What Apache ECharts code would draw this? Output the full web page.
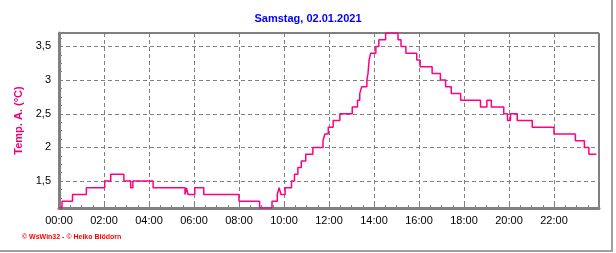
<!DOCTYPE html>
<html><head><meta charset="utf-8">
<script src="https://cdn.jsdelivr.net/npm/echarts@6/dist/echarts.min.js"></script>
<style>html,body{margin:0;padding:0;background:#fff}#c{width:616px;height:253px}</style>
</head><body><div id="c"></div>
<script>
const titleText = "Samstag, 02.01.2021";
const yAxisName = "Temp. A. (°C)";
const footerText = "© WsWin32 - © Heiko Blödorn";

const times = ["00:00","00:08","00:36","01:13","02:02","02:18","02:53","03:11","03:17","04:11",
 "05:36","05:40","05:44","06:02","06:26","08:00","08:55","09:28","09:42","09:47",
 "09:52","10:03","10:20","10:28","10:37","10:46","10:58","11:17","11:44","11:49",
 "11:58","12:11","12:29","13:02","13:16","13:22","13:27","13:41","13:44","13:47",
 "13:51","14:05","14:13","14:31","15:04","15:12","15:25","15:54","16:03","16:35",
 "16:57","17:11","17:26","17:51","18:44","19:01","19:13","19:46","19:56","20:04",
 "20:22","21:02","22:00","22:57","23:21","23:33","23:53"];
const temps = [1.1,1.2,1.3,1.4,1.5,1.6,1.5,1.4,1.5,1.4,
 1.3,1.4,1.3,1.4,1.3,1.2,1.1,1.2,1.3,1.4,
 1.3,1.4,1.5,1.6,1.7,1.8,1.9,2.0,2.1,2.2,
 2.3,2.4,2.5,2.6,2.7,2.8,2.9,3.0,3.1,3.3,
 3.4,3.5,3.6,3.7,3.6,3.5,3.4,3.3,3.2,3.1,
 3.0,2.9,2.8,2.7,2.6,2.7,2.6,2.5,2.4,2.5,
 2.4,2.3,2.2,2.1,2.0,1.9,1.9];

const xMin = 0, xMax = 1440, xStep = 120;
const yMin = 1.1, yMax = 3.7, yStep = 0.5;

function toMin(s){ const p = s.split(':'); return (+p[0]) * 60 + (+p[1]); }
function pad(n){ return (n < 10 ? '0' : '') + n; }
const data = times.map((t, i) => [toMin(t), temps[i]]);

const gray = '#808080';
const chart = echarts.init(document.getElementById('c'), null, {renderer: 'canvas'});
chart.setOption({
  animation: false,
  backgroundColor: '#fff',
  title: {
    text: titleText, left: 'center', top: 13, padding: 0,
    textStyle: {color: '#0000ff', fontSize: 11, fontWeight: 'bold', fontFamily: 'Liberation Sans, Arial, sans-serif'}
  },
  grid: {left: 59, right: 17, top: 33, bottom: 45, show: true, borderColor: '#000', borderWidth: 1, backgroundColor: 'transparent'},
  xAxis: {
    type: 'value', min: xMin, max: xMax, interval: xStep,
    axisLine: {show: true, lineStyle: {color: gray, width: 3}},
    axisTick: {show: true, inside: true, length: 4, lineStyle: {color: gray}},
    minorTick: {show: true, splitNumber: 4, length: 3, lineStyle: {color: gray}},
    splitLine: {show: true, lineStyle: {color: gray, type: [4, 3], width: 1}},
    axisLabel: {
      showMaxLabel: false, margin: 7, color: '#000', fontSize: 11,
      fontFamily: 'Liberation Sans, Arial, sans-serif',
      formatter: v => pad(Math.round(v / 60)) + ':00'
    }
  },
  yAxis: {
    type: 'value', min: yMin, max: yMax, minInterval: yStep, maxInterval: yStep, splitNumber: 5,
    name: yAxisName, nameLocation: 'middle', nameGap: 26, nameRotate: 90,
    nameTextStyle: {color: '#e8007a', fontSize: 11, fontWeight: 'bold', fontFamily: 'Liberation Sans, Arial, sans-serif'},
    axisLine: {show: true, lineStyle: {color: gray, width: 3}},
    axisTick: {show: true, inside: true, length: 4, lineStyle: {color: gray}},
    minorTick: {show: true, splitNumber: 4, length: 3, lineStyle: {color: gray}},
    splitLine: {show: true, lineStyle: {color: gray, type: [4, 3], width: 1}},
    axisLabel: {
      showMinLabel: false, showMaxLabel: false, margin: 8, color: '#000', fontSize: 11,
      fontFamily: 'Liberation Sans, Arial, sans-serif',
      formatter: v => String(v).replace('.', ',')
    }
  },
  graphic: [
    {type: 'text', left: 22, top: 234, style: {text: footerText, fill: '#ff0000', fontSize: 7, fontWeight: 'bold', fontFamily: 'Liberation Sans, Arial, sans-serif'}},
    {type: 'polyline', shape: {points: [[612, 0], [612, 251], [0, 251]]}, style: {stroke: '#a0a0a0', lineWidth: 2, fill: null}}
  ],
  series: [{
    type: 'line', step: 'end', data: data, showSymbol: false, symbol: 'none',
    lineStyle: {color: '#ff0080', width: 1.5}, itemStyle: {color: '#ff0080'}
  }]
});
</script>
</body></html>
